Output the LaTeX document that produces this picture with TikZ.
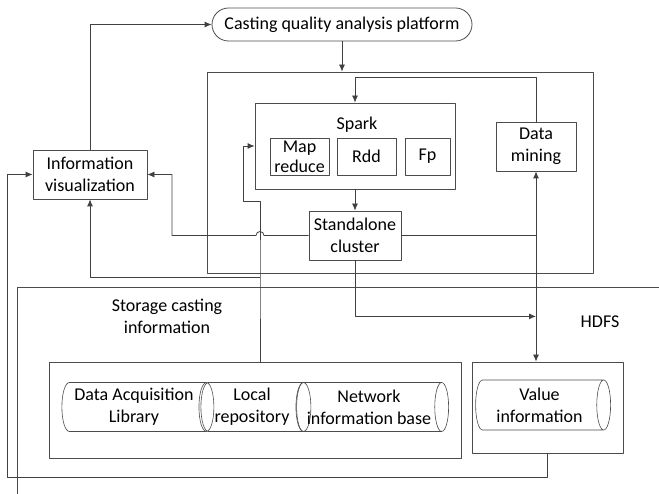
\documentclass[tikz,border=0pt]{standalone}
\usepackage{fontspec}
\setmainfont{Carlito}
\usetikzlibrary{arrows.meta,shapes.geometric,shapes.misc}

\begin{document}
\begin{tikzpicture}[x=1pt, y=-1pt, font=\fontsize{18}{22}\selectfont, line join=round, >={Latex[length=7pt,width=6pt]},
  box/.style={draw=black!70, line width=0.8pt, align=center, inner sep=0pt},
  lbl/.style={align=center, inner sep=0pt},
  drum/.style={cylinder, draw=black!70, line width=0.6pt, align=center, inner sep=0pt, shape aspect=0.4, minimum width=49pt},
  link/.style={draw=black!75, line width=0.8pt}]
\useasboundingbox (0,0) rectangle (659,494);
\clip (0,0) rectangle (659,494);
% platform and cluster
\node[box, rounded rectangle, minimum width=260pt, minimum height=33pt] (platform) at (342,24.5) {Casting quality analysis platform};
\node[box, minimum width=386pt, minimum height=201pt] (cluster) at (400,172.5) {};
\node[box, minimum width=200pt, minimum height=86pt] (spark) at (355,146) {};
\node[lbl] (sparklbl) at (357,125) {Spark};
\node[box, minimum width=59pt, minimum height=37pt, font=\fontsize{18}{20}\selectfont] (mapred) at (299.5,156.5) {Map\\reduce};
\node[box, minimum width=59pt, minimum height=37pt] (rdd) at (366.5,156.5) {Rdd};
\node[box, minimum width=45pt, minimum height=37pt] (fp) at (427.5,156.5) {Fp};
\node[box, minimum width=80pt, minimum height=49pt] (mining) at (536,146.5) {Data\\mining};
\node[box, minimum width=92pt, minimum height=49pt] (standalone) at (355,235.5) {Standalone\\cluster};
\node[box, minimum width=114pt, minimum height=49pt] (infovis) at (90,174.5) {Information\\visualization};
% storage
\draw[box] (17,520) -- (17,287) -- (680,287);
\node[lbl] (storelbl) at (167,316) {Storage casting\\information};
\node[lbl] (hdfslbl) at (600,322) {HDFS};
\node[box, minimum width=412pt, minimum height=96pt] (storebox) at (255,410) {};
\node[drum, minimum height=152pt] (dal) at (134,407) {Data Acquisition\\Library};
\node[drum, minimum height=110pt] (local) at (252,407) {Local\\repository};
\node[drum, minimum height=152pt] (netbase) at (369,407) {Network\\information base};
\node[box, minimum width=151pt, minimum height=91pt] (valuebox) at (547.5,407.5) {};
\node[drum, minimum height=135pt, minimum width=50pt] (value) at (539.5,405) {Value\\information};
\coordinate (tap) at ([xshift=5pt]storebox.north);
% links
\draw[link,->] (infovis.north) |- (platform.west);
\draw[link,->] (platform.south) -- (platform.south |- cluster.north);
\draw[link,->] (mining.north) -- ++(0,-44) -| (spark.north);
\draw[link,->] (spark.south) -- (standalone.north);
\draw[link,<->] (mining.south) -- (mining.south |- valuebox.north);
\draw[link] (standalone.east) -- (standalone.east -| mining.south);
\draw[link,->] (standalone.west) -- ([xshift=4pt]standalone.west -| tap) arc[start angle=0, end angle=-180, radius=4] -- ++(-84,0) |- (infovis.east);
\draw[link,->] (standalone.south) -- ++(0,56) coordinate (turn) -- (turn -| mining.south);
\draw[link,->] (tap) -- ++(0,-84) coordinate (split) -- ++(0,-76) -- ++(-17,0) |- (spark.west);
\draw[link,->] (split) -| (infovis.south);
\draw[link,->] (valuebox.south) -- ++(0,24) -| ([xshift=-25pt]infovis.west) -- (infovis.west);
\end{tikzpicture}
\end{document}
